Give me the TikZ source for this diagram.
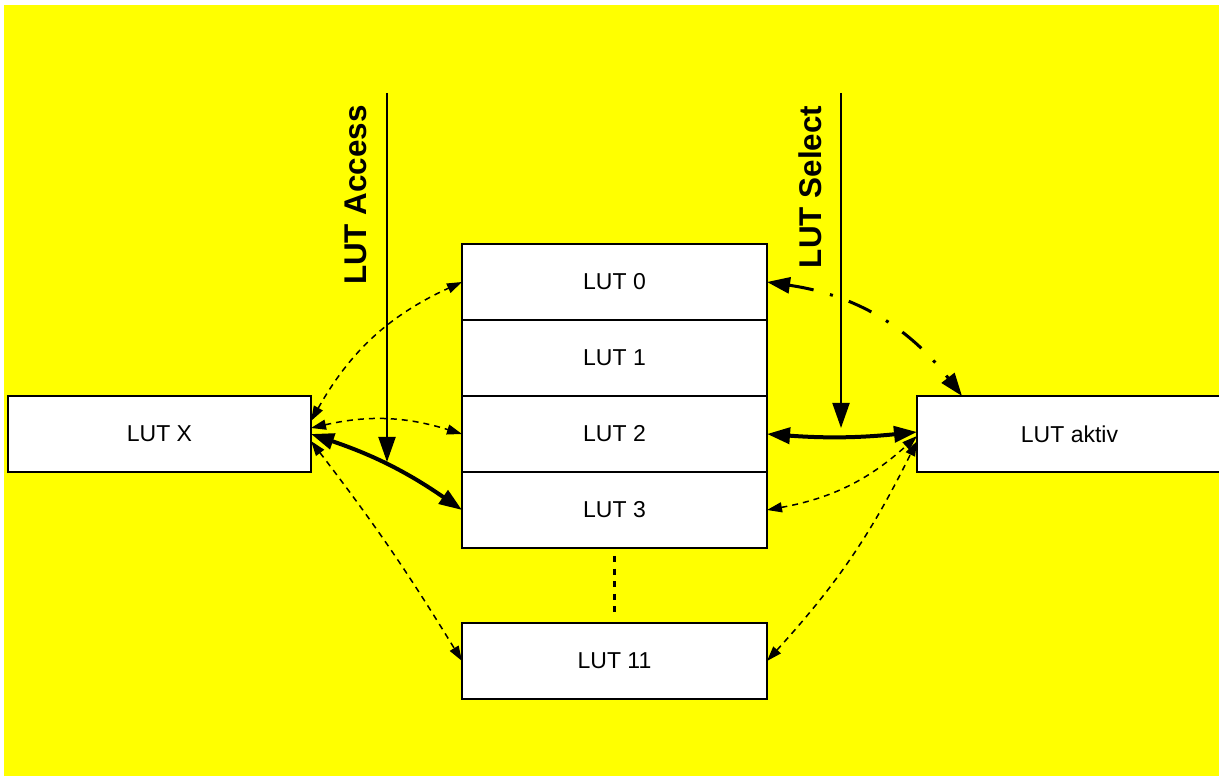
\documentclass[tikz,border=0pt]{standalone}
\usepackage{fontspec}
\setmainfont{Liberation Sans}
\usetikzlibrary{arrows.meta,positioning,calc}
\definecolor{sheet}{RGB}{255,255,0}

\begin{document}
\begin{tikzpicture}[x=0.5pt,y=0.5pt,
    lutbox/.style={draw,fill=white,line width=1pt,minimum width=152.5pt,minimum height=38pt,
      inner sep=0pt,outer sep=0pt,font=\fontsize{11.5pt}{14pt}\selectfont},
    busname/.style={rotate=90,font=\bfseries\fontsize{15.7pt}{18pt}\selectfont},
    bus/.style={line width=1pt,-{Triangle[length=12.5pt,width=8.5pt]}},
    weaklink/.style={line width=0.75pt,dash pattern=on 3pt off 2.5pt,
      {Triangle[length=7.5pt,width=5pt]}-{Triangle[length=7.5pt,width=5pt]}},
    mainlink/.style={line width=2pt,
      {Triangle[length=11.5pt,width=8pt]}-{Triangle[length=11.5pt,width=8pt]}},
    actlink/.style={line width=1.5pt,dash pattern=on 12.5pt off 8.5pt on 1.5pt off 8.5pt,
      {Triangle[length=11.5pt,width=8pt]}-{Triangle[length=11.5pt,width=8pt]}}]
    % Background
    \useasboundingbox (0,0) rectangle (1219,776);
    \clip (0,0) rectangle (1219,776);
    \fill[sheet] (4,0) rectangle (1219,771);
    % LUT stack
    \node[lutbox] (lut0) at (614.5,494) {LUT 0};
    \node[lutbox,below=0pt of lut0] (lut1) {LUT 1};
    \node[lutbox,below=0pt of lut1] (lut2) {LUT 2};
    \node[lutbox,below=0pt of lut2] (lut3) {LUT 3};
    \node[lutbox,below=37.5pt of lut3] (lut11) {LUT 11};
    \node[lutbox,minimum width=151.5pt,left=75.5pt of lut2] (lutx) {LUT X};
    \node[lutbox,right=75pt of lut2] (aktiv) {LUT aktiv};
    % Gap in the stack
    \draw[line width=1.5pt,dash pattern=on 3pt off 3.3pt]
      ($(lut3.south)+(0,-8)$) -- ($(lut11.north)+(0,11)$);
    % Buses
    \coordinate (accesstop) at (387,683);
    \coordinate (accessend) at (387,314);
    \coordinate (selecttop) at (841,683);
    \coordinate (selectend) at (841,348);
    \draw[bus] (accesstop) -- (accessend);
    \draw[bus] (selecttop) -- (selectend);
    \node[busname] (accesslbl) at (356,581) {LUT Access};
    \node[busname] (selectlbl) at (810,589) {LUT Select};
    % Links to LUT X
    \draw[weaklink] ($(lutx.east)+(0,13)$) to[bend left=18] (lut0.west);
    \draw[weaklink] ($(lutx.east)+(0,6)$) to[bend left=15] (lut2.west);
    \draw[mainlink] (lutx.east) to[bend left=8] (lut3.west);
    \draw[weaklink] ($(lutx.east)+(0,-7)$) to[bend left=3] (lut11.west);
    % Links to LUT aktiv
    \draw[actlink] (lut0.east) to[bend left=22] ($(aktiv.north west)+(45,0)$);
    \draw[mainlink] (lut2.east) to[bend right=5] ($(aktiv.west)+(0,2)$);
    \draw[weaklink] (lut3.east) to[bend right=16] ($(aktiv.west)+(0,-2)$);
    \draw[weaklink] (lut11.east) to[bend right=8] ($(aktiv.west)+(0,-7)$);
\end{tikzpicture}
\end{document}
